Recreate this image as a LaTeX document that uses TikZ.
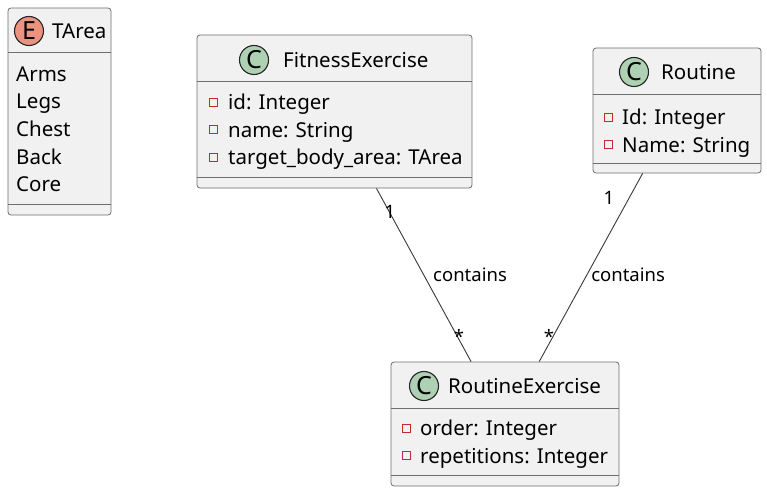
\documentclass[tikz,border=0pt]{standalone}
\usepackage{fontspec}
\setmainfont{Noto Sans}
\usetikzlibrary{positioning}
\definecolor{boxfill}{HTML}{F1F1F1}
\definecolor{boxline}{HTML}{6E6E6E}
\definecolor{classgreen}{HTML}{ADD1B2}
\definecolor{enumred}{HTML}{EB937F}
\definecolor{privred}{HTML}{C82930}
\definecolor{linkline}{HTML}{383838}

\begin{document}
\begin{tikzpicture}[x=1pt, y=-1pt, font=\fontsize{20.5}{24}\selectfont]
    % Define the styles for each node
    \tikzstyle{umlclass} = [rectangle, draw=boxline, fill=boxfill, rounded corners=3pt, line width=0.8pt, inner sep=0pt]
    \tikzstyle{divider} = [draw=boxline, line width=0.8pt]
    \tikzstyle{badge} = [circle, draw=black!85, line width=1.1pt, minimum size=29pt, inner sep=0pt, font=\fontsize{25}{25}\selectfont\bfseries]
    \tikzstyle{member} = [anchor=west, inner sep=0pt, text height=15pt, text depth=0pt]
    \tikzstyle{private} = [rectangle, draw=privred, line width=0.8pt, minimum size=8pt, inner sep=0pt]
    \tikzstyle{link} = [draw=linkline, line width=0.9pt]
    \tikzstyle{linklabel} = [font=\fontsize{18.5}{22}\selectfont, inner sep=1pt]

    \useasboundingbox (0,0) rectangle (767,492);

    % Create the enum TArea
    \node [umlclass, minimum width=103pt, minimum height=207pt] (tarea) at (59.5,111.5) {};
    \draw [divider] ([yshift=-45pt]tarea.north west) -- ([yshift=-45pt]tarea.north east);
    \draw [divider] ([yshift=11pt]tarea.south west) -- ([yshift=11pt]tarea.south east);
    \node [badge, fill=enumred] (tareaE) at (29,31) {E};
    \node [member] (tareaname) at (52,31) {TArea};
    \foreach \item [count=\i] in {Arms, Legs, Chest, Back, Core}
        \node [member] (tarea\i) at (16,46.5+27.5*\i) {\item};

    % Create the class FitnessExercise
    \node [umlclass, minimum width=275pt, minimum height=153pt] (fitness) at (334.5,111.5) {};
    \draw [divider] ([yshift=-47pt]fitness.north west) -- ([yshift=-47pt]fitness.north east);
    \draw [divider] ([yshift=11pt]fitness.south west) -- ([yshift=11pt]fitness.south east);
    \node [badge, fill=classgreen] (fitnessC) at (254,60) {C};
    \node [member] (fitnessname) at (283,60) {FitnessExercise};
    \foreach \attr [count=\i] in {id: Integer, name: String, target\_body\_area: TArea} {
        \node [private] (fitnessp\i) at (213,74.5+27.5*\i) {};
        \node [member] (fitnessa\i) at (228,74.5+27.5*\i) {\attr};
    }

    % Create the class Routine
    \node [umlclass, minimum width=168pt, minimum height=125pt] (routine) at (677,110.5) {};
    \draw [divider] ([yshift=-47pt]routine.north west) -- ([yshift=-47pt]routine.north east);
    \draw [divider] ([yshift=10pt]routine.south west) -- ([yshift=10pt]routine.south east);
    \node [badge, fill=classgreen] (routineC) at (634,72) {C};
    \node [member] (routinename) at (661,72) {Routine};
    \foreach \attr [count=\i] in {Id: Integer, Name: String} {
        \node [private] (routinep\i) at (608,89.5+27.5*\i) {};
        \node [member] (routinea\i) at (622,89.5+27.5*\i) {\attr};
    }

    % Create the class RoutineExercise
    \node [umlclass, minimum width=228pt, minimum height=124pt] (routinex) at (505,424) {};
    \draw [divider] ([yshift=-47pt]routinex.north west) -- ([yshift=-47pt]routinex.north east);
    \draw [divider] ([yshift=11pt]routinex.south west) -- ([yshift=11pt]routinex.south east);
    \node [badge, fill=classgreen] (routinexC) at (424,386) {C};
    \node [member] (routinexname) at (448,386) {RoutineExercise};
    \foreach \attr [count=\i] in {order: Integer, repetitions: Integer} {
        \node [private] (routinexp\i) at (406,400.5+27.5*\i) {};
        \node [member] (routinexa\i) at (420,400.5+27.5*\i) {\attr};
    }

    % Draw the associations
    \draw [link] (fitness) -- (routinex)
        node [linklabel, pos=0.5, right=8pt] {contains};
    \draw [link] (routine) -- (routinex)
        node [linklabel, pos=0.54, right=3pt] {contains};

    % Add the multiplicities
    \node [linklabel] (fitnessone) at (390,212) {1};
    \node [linklabel] (fitnessmany) at (459,336) {*};
    \node [linklabel] (routineone) at (609,198) {1};
    \node [linklabel] (routinemany) at (549,336) {*};
\end{tikzpicture}
\end{document}
